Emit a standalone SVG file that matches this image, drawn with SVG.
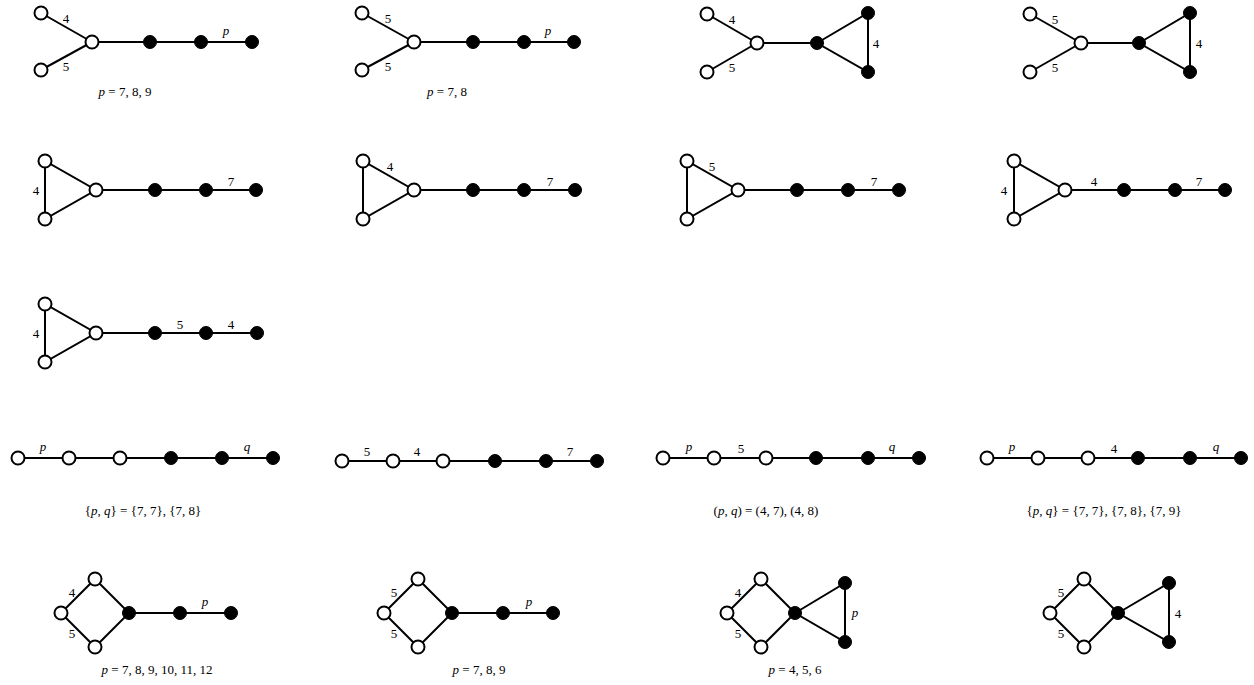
<svg xmlns="http://www.w3.org/2000/svg" width="1254" height="685" viewBox="0 0 1254 685">
<style>
.e{stroke:#000;stroke-width:2;fill:none}
.o{fill:#fff;stroke:#000;stroke-width:2}
.f{fill:#000;stroke:#000;stroke-width:1}
.l{font-family:"Liberation Serif","DejaVu Serif",serif;font-size:13px;fill:#000;text-anchor:middle}
.c{font-family:"Liberation Serif","DejaVu Serif",serif;font-size:13px;fill:#000;text-anchor:middle}
.i{font-style:italic}
</style>
<rect width="1254" height="685" fill="#fff"/>
<g id="connectors">
<line class="e" x1="41" y1="13" x2="92" y2="42"/><line class="e" x1="41" y1="70" x2="92" y2="42"/><line class="e" x1="92" y1="42" x2="252" y2="42"/>
<line class="e" x1="362" y1="13" x2="414" y2="42"/><line class="e" x1="362" y1="70" x2="414" y2="42"/><line class="e" x1="414" y1="42" x2="574" y2="42"/>
<line class="e" x1="707" y1="14" x2="757" y2="43"/><line class="e" x1="707" y1="72" x2="757" y2="43"/><line class="e" x1="757" y1="43" x2="817" y2="43"/><path class="e" d="M817 43 L868 13 L868 72 Z"/>
<line class="e" x1="1030" y1="14" x2="1081" y2="43"/><line class="e" x1="1030" y1="72" x2="1081" y2="43"/><line class="e" x1="1081" y1="43" x2="1139" y2="43"/><path class="e" d="M1139 43 L1190 13 L1190 72 Z"/>
<path class="e" d="M45 161 L45 219 L96 190 Z"/><line class="e" x1="96" y1="190" x2="256" y2="190"/>
<path class="e" d="M363 161 L363 219 L414 190 Z"/><line class="e" x1="414" y1="190" x2="575" y2="190"/>
<path class="e" d="M687 161 L687 219 L738 190 Z"/><line class="e" x1="738" y1="190" x2="899" y2="190"/>
<path class="e" d="M1014 161 L1014 219 L1065 190 Z"/><line class="e" x1="1065" y1="190" x2="1225" y2="190"/>
<path class="e" d="M45 304 L45 362 L96 333 Z"/><line class="e" x1="96" y1="333" x2="257" y2="333"/>
<line class="e" x1="18" y1="458" x2="273" y2="458"/>
<line class="e" x1="342" y1="461" x2="597" y2="461"/>
<line class="e" x1="663" y1="458" x2="919" y2="458"/>
<line class="e" x1="987" y1="458" x2="1241" y2="458"/>
<path class="e" d="M61 613 L95 579 L129 613 L95 647 Z"/><line class="e" x1="129" y1="613" x2="231" y2="613"/>
<path class="e" d="M384 613 L418 579 L452 613 L418 647 Z"/><line class="e" x1="452" y1="613" x2="553" y2="613"/>
<path class="e" d="M727 613 L761 579 L795 613 L761 647 Z"/><path class="e" d="M795 613 L845 583 L845 642 Z"/>
<path class="e" d="M1050 613 L1084 579 L1118 613 L1084 647 Z"/><path class="e" d="M1118 613 L1169 583 L1169 642 Z"/>
<text class="l" x="66" y="23">4</text><text class="l" x="66" y="71">5</text><text class="l i" x="226" y="35">p</text>
<text class="l" x="388" y="23">5</text><text class="l" x="388" y="71">5</text><text class="l i" x="548" y="35">p</text>
<text class="l" x="732" y="24">4</text><text class="l" x="732" y="72">5</text><text class="l" x="876" y="48">4</text>
<text class="l" x="1055" y="24">5</text><text class="l" x="1055" y="72">5</text><text class="l" x="1199" y="48">4</text>
<text class="l" x="36" y="195">4</text><text class="l" x="231" y="186">7</text>
<text class="l" x="390" y="171">4</text><text class="l" x="550" y="186">7</text>
<text class="l" x="712" y="171">5</text><text class="l" x="874" y="186">7</text>
<text class="l" x="1004" y="195">4</text><text class="l" x="1094" y="186">4</text><text class="l" x="1199" y="186">7</text>
<text class="l" x="36" y="338">4</text><text class="l" x="180" y="329">5</text><text class="l" x="231" y="329">4</text>
<text class="l i" x="43" y="451">p</text><text class="l i" x="247" y="451">q</text>
<text class="l" x="367" y="456">5</text><text class="l" x="417" y="456">4</text><text class="l" x="570" y="456">7</text>
<text class="l i" x="689" y="451">p</text><text class="l" x="741" y="453">5</text><text class="l i" x="892" y="451">q</text>
<text class="l i" x="1012" y="451">p</text><text class="l" x="1114" y="453">4</text><text class="l i" x="1216" y="451">q</text>
<text class="l" x="72" y="597">4</text><text class="l" x="72" y="638">5</text><text class="l i" x="205" y="606">p</text>
<text class="l" x="394" y="597">5</text><text class="l" x="394" y="638">5</text><text class="l i" x="529" y="606">p</text>
<text class="l" x="738" y="597">4</text><text class="l" x="738" y="638">5</text><text class="l i" x="855" y="617">p</text>
<text class="l" x="1061" y="597">5</text><text class="l" x="1061" y="638">5</text><text class="l" x="1178" y="618">4</text>
</g>
<g id="captions">
<text class="c" x="125" y="96"><tspan class="i">p</tspan> = 7, 8, 9</text>
<text class="c" x="447" y="96"><tspan class="i">p</tspan> = 7, 8</text>
<text class="c" x="143" y="515">{<tspan class="i">p</tspan>, <tspan class="i">q</tspan>} = {7, 7}, {7, 8}</text>
<text class="c" x="766" y="515">(<tspan class="i">p</tspan>, <tspan class="i">q</tspan>) = (4, 7), (4, 8)</text>
<text class="c" x="1104" y="515">{<tspan class="i">p</tspan>, <tspan class="i">q</tspan>} = {7, 7}, {7, 8}, {7, 9}</text>
<text class="c" x="157" y="674"><tspan class="i">p</tspan> = 7, 8, 9, 10, 11, 12</text>
<text class="c" x="479" y="674"><tspan class="i">p</tspan> = 7, 8, 9</text>
<text class="c" x="795" y="674"><tspan class="i">p</tspan> = 4, 5, 6</text>
</g>
<g id="g1a"><circle class="o" cx="41" cy="13" r="6.5"/></g>
<g id="g1b"><circle class="o" cx="41" cy="70" r="6.5"/></g>
<g id="g1c"><circle class="o" cx="92" cy="42" r="6.5"/></g>
<g id="g1d"><circle class="f" cx="150" cy="42" r="6.5"/></g>
<g id="g1e"><circle class="f" cx="201" cy="42" r="6.5"/></g>
<g id="g1f"><circle class="f" cx="252" cy="42" r="6.5"/></g>
<g id="g2a"><circle class="o" cx="362" cy="13" r="6.5"/></g>
<g id="g2b"><circle class="o" cx="362" cy="70" r="6.5"/></g>
<g id="g2c"><circle class="o" cx="414" cy="42" r="6.5"/></g>
<g id="g2d"><circle class="f" cx="473" cy="42" r="6.5"/></g>
<g id="g2e"><circle class="f" cx="524" cy="42" r="6.5"/></g>
<g id="g2f"><circle class="f" cx="574" cy="42" r="6.5"/></g>
<g id="g3a"><circle class="o" cx="707" cy="14" r="6.5"/></g>
<g id="g3b"><circle class="o" cx="707" cy="72" r="6.5"/></g>
<g id="g3c"><circle class="o" cx="757" cy="43" r="6.5"/></g>
<g id="g3d"><circle class="f" cx="817" cy="43" r="6.5"/></g>
<g id="g3e"><circle class="f" cx="868" cy="13" r="6.5"/></g>
<g id="g3f"><circle class="f" cx="868" cy="72" r="6.5"/></g>
<g id="g4a"><circle class="o" cx="1030" cy="14" r="6.5"/></g>
<g id="g4b"><circle class="o" cx="1030" cy="72" r="6.5"/></g>
<g id="g4c"><circle class="o" cx="1081" cy="43" r="6.5"/></g>
<g id="g4d"><circle class="f" cx="1139" cy="43" r="6.5"/></g>
<g id="g4e"><circle class="f" cx="1190" cy="13" r="6.5"/></g>
<g id="g4f"><circle class="f" cx="1190" cy="72" r="6.5"/></g>
<g id="g5a"><circle class="o" cx="45" cy="161" r="6.5"/></g>
<g id="g5b"><circle class="o" cx="45" cy="219" r="6.5"/></g>
<g id="g5c"><circle class="o" cx="96" cy="190" r="6.5"/></g>
<g id="g5d"><circle class="f" cx="155" cy="190" r="6.5"/></g>
<g id="g5e"><circle class="f" cx="206" cy="190" r="6.5"/></g>
<g id="g5f"><circle class="f" cx="256" cy="190" r="6.5"/></g>
<g id="g6a"><circle class="o" cx="363" cy="161" r="6.5"/></g>
<g id="g6b"><circle class="o" cx="363" cy="219" r="6.5"/></g>
<g id="g6c"><circle class="o" cx="414" cy="190" r="6.5"/></g>
<g id="g6d"><circle class="f" cx="473" cy="190" r="6.5"/></g>
<g id="g6e"><circle class="f" cx="524" cy="190" r="6.5"/></g>
<g id="g6f"><circle class="f" cx="575" cy="190" r="6.5"/></g>
<g id="g7a"><circle class="o" cx="687" cy="161" r="6.5"/></g>
<g id="g7b"><circle class="o" cx="687" cy="219" r="6.5"/></g>
<g id="g7c"><circle class="o" cx="738" cy="190" r="6.5"/></g>
<g id="g7d"><circle class="f" cx="797" cy="190" r="6.5"/></g>
<g id="g7e"><circle class="f" cx="848" cy="190" r="6.5"/></g>
<g id="g7f"><circle class="f" cx="899" cy="190" r="6.5"/></g>
<g id="g8a"><circle class="o" cx="1014" cy="161" r="6.5"/></g>
<g id="g8b"><circle class="o" cx="1014" cy="219" r="6.5"/></g>
<g id="g8c"><circle class="o" cx="1065" cy="190" r="6.5"/></g>
<g id="g8d"><circle class="f" cx="1124" cy="190" r="6.5"/></g>
<g id="g8e"><circle class="f" cx="1175" cy="190" r="6.5"/></g>
<g id="g8f"><circle class="f" cx="1225" cy="190" r="6.5"/></g>
<g id="g9a"><circle class="o" cx="45" cy="304" r="6.5"/></g>
<g id="g9b"><circle class="o" cx="45" cy="362" r="6.5"/></g>
<g id="g9c"><circle class="o" cx="96" cy="333" r="6.5"/></g>
<g id="g9d"><circle class="f" cx="155" cy="333" r="6.5"/></g>
<g id="g9e"><circle class="f" cx="206" cy="333" r="6.5"/></g>
<g id="g9f"><circle class="f" cx="257" cy="333" r="6.5"/></g>
<g id="g10a"><circle class="o" cx="18" cy="458" r="6.5"/></g>
<g id="g10b"><circle class="o" cx="69" cy="458" r="6.5"/></g>
<g id="g10c"><circle class="o" cx="120" cy="458" r="6.5"/></g>
<g id="g10d"><circle class="f" cx="171" cy="458" r="6.5"/></g>
<g id="g10e"><circle class="f" cx="222" cy="458" r="6.5"/></g>
<g id="g10f"><circle class="f" cx="273" cy="458" r="6.5"/></g>
<g id="g11a"><circle class="o" cx="342" cy="461" r="6.5"/></g>
<g id="g11b"><circle class="o" cx="393" cy="461" r="6.5"/></g>
<g id="g11c"><circle class="o" cx="443" cy="461" r="6.5"/></g>
<g id="g11d"><circle class="f" cx="495" cy="461" r="6.5"/></g>
<g id="g11e"><circle class="f" cx="546" cy="461" r="6.5"/></g>
<g id="g11f"><circle class="f" cx="597" cy="461" r="6.5"/></g>
<g id="g12a"><circle class="o" cx="663" cy="458" r="6.5"/></g>
<g id="g12b"><circle class="o" cx="714" cy="458" r="6.5"/></g>
<g id="g12c"><circle class="o" cx="766" cy="458" r="6.5"/></g>
<g id="g12d"><circle class="f" cx="816" cy="458" r="6.5"/></g>
<g id="g12e"><circle class="f" cx="868" cy="458" r="6.5"/></g>
<g id="g12f"><circle class="f" cx="919" cy="458" r="6.5"/></g>
<g id="g13a"><circle class="o" cx="987" cy="458" r="6.5"/></g>
<g id="g13b"><circle class="o" cx="1038" cy="458" r="6.5"/></g>
<g id="g13c"><circle class="o" cx="1088" cy="458" r="6.5"/></g>
<g id="g13d"><circle class="f" cx="1138" cy="458" r="6.5"/></g>
<g id="g13e"><circle class="f" cx="1190" cy="458" r="6.5"/></g>
<g id="g13f"><circle class="f" cx="1241" cy="458" r="6.5"/></g>
<g id="g14a"><circle class="o" cx="61" cy="613" r="6.5"/></g>
<g id="g14b"><circle class="o" cx="95" cy="579" r="6.5"/></g>
<g id="g14c"><circle class="o" cx="95" cy="647" r="6.5"/></g>
<g id="g14d"><circle class="f" cx="129" cy="613" r="6.5"/></g>
<g id="g14e"><circle class="f" cx="180" cy="613" r="6.5"/></g>
<g id="g14f"><circle class="f" cx="231" cy="613" r="6.5"/></g>
<g id="g15a"><circle class="o" cx="384" cy="613" r="6.5"/></g>
<g id="g15b"><circle class="o" cx="418" cy="579" r="6.5"/></g>
<g id="g15c"><circle class="o" cx="418" cy="647" r="6.5"/></g>
<g id="g15d"><circle class="f" cx="452" cy="613" r="6.5"/></g>
<g id="g15e"><circle class="f" cx="503" cy="613" r="6.5"/></g>
<g id="g15f"><circle class="f" cx="553" cy="613" r="6.5"/></g>
<g id="g16a"><circle class="o" cx="727" cy="613" r="6.5"/></g>
<g id="g16b"><circle class="o" cx="761" cy="579" r="6.5"/></g>
<g id="g16c"><circle class="o" cx="761" cy="647" r="6.5"/></g>
<g id="g16d"><circle class="f" cx="795" cy="613" r="6.5"/></g>
<g id="g16e"><circle class="f" cx="845" cy="583" r="6.5"/></g>
<g id="g16f"><circle class="f" cx="845" cy="642" r="6.5"/></g>
<g id="g17a"><circle class="o" cx="1050" cy="613" r="6.5"/></g>
<g id="g17b"><circle class="o" cx="1084" cy="579" r="6.5"/></g>
<g id="g17c"><circle class="o" cx="1084" cy="647" r="6.5"/></g>
<g id="g17d"><circle class="f" cx="1118" cy="613" r="6.5"/></g>
<g id="g17e"><circle class="f" cx="1169" cy="583" r="6.5"/></g>
<g id="g17f"><circle class="f" cx="1169" cy="642" r="6.5"/></g>
</svg>
